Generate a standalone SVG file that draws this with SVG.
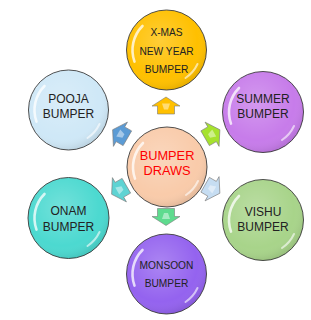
<svg xmlns="http://www.w3.org/2000/svg" width="311" height="320" viewBox="0 0 311 320">
<defs>
<radialGradient id="shine" cx="42%" cy="38%" r="62%">
<stop offset="0" stop-color="#fff" stop-opacity="0.22"/>
<stop offset="0.75" stop-color="#fff" stop-opacity="0"/>
<stop offset="1" stop-color="#000" stop-opacity="0.08"/>
</radialGradient>
<linearGradient id="agloss" x1="0" y1="0" x2="0" y2="1">
<stop offset="0" stop-color="#fff" stop-opacity="0.1"/>
<stop offset="0.5" stop-color="#fff" stop-opacity="0.45"/>
<stop offset="1" stop-color="#fff" stop-opacity="0"/>
</linearGradient>
<path id="hl1" d="M-24,-24 A34,34 0 0 0 -32,11.6"/>
<path id="hl2" d="M31,14 A34,34 0 0 1 19,28"/>
<path id="arrow" d="M0,-8.5 L14,0.5 L8.5,0.5 L8.5,8.5 L-8.5,8.5 L-8.5,0.5 L-14,0.5 Z"/>
<path id="agl" d="M-4,-2 L4,-2 L2,4 L-2,4 Z"/>
<style>
.ring{stroke:#3a3a3a;stroke-width:0.9}
.shine{fill:url(#shine)}
.hl{fill:none;stroke:#fff;stroke-width:2.6;stroke-linecap:round;stroke-opacity:0.75}
.hl.b{stroke-width:2;stroke-opacity:0.6}
.lbl{font-family:"Liberation Sans",Arial,sans-serif;fill:#222;text-anchor:middle}
.s12{font-size:12px}
.s10{font-size:10.2px}
.ctr{font-family:"Liberation Sans",Arial,sans-serif;fill:#ff0000;font-size:12.8px;text-anchor:middle}
.arr{stroke:#7a7a7a;stroke-width:0.6;stroke-linejoin:round}
.agl{fill:#fff;fill-opacity:0.45}
</style>
</defs>
<rect width="311" height="320" fill="#fff"/>
<g id="connectors">
<g transform="translate(166,105.5)"><use href="#arrow" class="arr" fill="#FFC000"/><use href="#agl" class="agl"/></g>
<g transform="translate(212.5,134) rotate(60)"><use href="#arrow" class="arr" fill="#A6E22E"/><use href="#agl" class="agl"/></g>
<g transform="translate(212.5,189) rotate(120)"><use href="#arrow" class="arr" fill="#C6DDF2"/><use href="#agl" class="agl"/></g>
<g transform="translate(166,217) rotate(180)"><use href="#arrow" class="arr" fill="#5EDB8E"/><use href="#agl" class="agl"/></g>
<g transform="translate(119,190) rotate(-120)"><use href="#arrow" class="arr" fill="#5ED3D3"/><use href="#agl" class="agl"/></g>
<g transform="translate(120,134) rotate(-60)"><use href="#arrow" class="arr" fill="#5B9BD5"/><use href="#agl" class="agl"/></g>
</g>
<g id="node-center" transform="translate(167,167)">
<circle r="40" class="ring" fill="#F9CBAA"/><circle r="40" class="shine"/>
<use href="#hl1" class="hl"/><use href="#hl2" class="hl b"/>
<text class="ctr" y="-7">BUMPER</text>
<text class="ctr" y="7.5">DRAWS</text>
</g>
<g id="node-xmas" transform="translate(166.5,50)">
<circle r="40" class="ring" fill="#FFC000"/><circle r="40" class="shine"/>
<use href="#hl1" class="hl"/><use href="#hl2" class="hl b"/>
<text class="lbl s10" y="-14">X-MAS</text>
<text class="lbl s10" y="4.5">NEW YEAR</text>
<text class="lbl s10" y="23">BUMPER</text>
</g>
<g id="node-summer" transform="translate(263,112)">
<circle r="40.5" class="ring" fill="#C77CEA"/><circle r="40.5" class="shine"/>
<use href="#hl1" class="hl"/><use href="#hl2" class="hl b"/>
<text class="lbl s12" y="-9.5">SUMMER</text>
<text class="lbl s12" y="6">BUMPER</text>
</g>
<g id="node-vishu" transform="translate(263,220)">
<circle r="40.5" class="ring" fill="#A8D48A"/><circle r="40.5" class="shine"/>
<use href="#hl1" class="hl"/><use href="#hl2" class="hl b"/>
<text class="lbl s12" y="-4">VISHU</text>
<text class="lbl s12" y="10.7">BUMPER</text>
</g>
<g id="node-monsoon" transform="translate(166.5,274)">
<circle r="40" class="ring" fill="#9463EF"/><circle r="40" class="shine"/>
<use href="#hl1" class="hl"/><use href="#hl2" class="hl b"/>
<text class="lbl s10" y="-5">MONSOON</text>
<text class="lbl s10" y="13.3">BUMPER</text>
</g>
<g id="node-onam" transform="translate(68.5,218)">
<circle r="40.5" class="ring" fill="#4CD9D0"/><circle r="40.5" class="shine"/>
<use href="#hl1" class="hl"/><use href="#hl2" class="hl b"/>
<text class="lbl s12" y="-3">ONAM</text>
<text class="lbl s12" y="12.5">BUMPER</text>
</g>
<g id="node-pooja" transform="translate(68.5,110)">
<circle r="40" class="ring" fill="#CFE8F7"/><circle r="40" class="shine"/>
<use href="#hl1" class="hl"/><use href="#hl2" class="hl b"/>
<text class="lbl s12" y="-7">POOJA</text>
<text class="lbl s12" y="8">BUMPER</text>
</g>
</svg>
